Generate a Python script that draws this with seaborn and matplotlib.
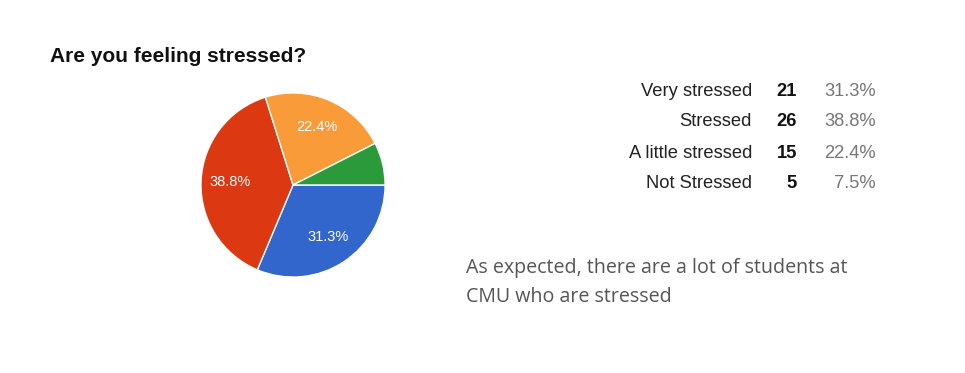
import numpy as np
import matplotlib.pyplot as plt
import seaborn as sns

# survey answers
labels = ["Very stressed", "Stressed", "A little stressed", "Not Stressed"]
counts = [21, 26, 15, 5]
percents = [31.3, 38.8, 22.4, 7.5]
colors = ["#3366cc", "#dc3912", "#f99b38", "#2a9a3a"]

sns.set_theme(style="white")
plt.rcParams['font.family'] = ['Liberation Sans', 'DejaVu Sans']
sns.set_palette(colors)

fig = plt.figure(figsize=(9.65, 3.73), dpi=100)

# pie
ax = fig.add_axes([0.2073, 0.2547, 0.1927, 0.4987])
def fmt(p):
    return f"{p:.1f}%" if p > 10 else ""
wedges, texts, autotexts = ax.pie(counts, colors=sns.color_palette(), startangle=0,
                                  counterclock=False, autopct=fmt, pctdistance=0.68,
                                  wedgeprops=dict(edgecolor="white", linewidth=1.0),
                                  textprops=dict(color="white", fontsize=10.5))
ax.set_xlim(-1.01, 1.01)
ax.set_ylim(-1.01, 1.01)
ax.set_aspect("equal")

fig.text(50 / 965, 1 - 57 / 373, "Are you feeling stressed?", fontsize=15,
         fontweight="bold", color="#111111", va="center", ha="left")

# table legend
row_y = [91, 122, 153, 184]
for lab, c, p, y in zip(labels, counts, percents, row_y):
    yf = 1 - y / 373
    fig.text(752 / 965, yf, lab, ha="right", va="center", fontsize=13.2, color="#222222")
    fig.text(797 / 965, yf, str(c), ha="right", va="center", fontsize=13.2,
             fontweight="bold", color="#111111")
    fig.text(876 / 965, yf, f"{p:.1f}%", ha="right", va="center", fontsize=13.2,
             color="#777777")

fig.text(466 / 965, 1 - 268 / 373, "As expected, there are a lot of students at",
         ha="left", va="center", fontsize=14.1, color="#555555", family=["Open Sans", "DejaVu Sans"])
fig.text(466 / 965, 1 - 297 / 373, "CMU who are stressed",
         ha="left", va="center", fontsize=14.1, color="#555555", family=["Open Sans", "DejaVu Sans"])

fig.savefig("out.png", dpi=100, facecolor="white")
